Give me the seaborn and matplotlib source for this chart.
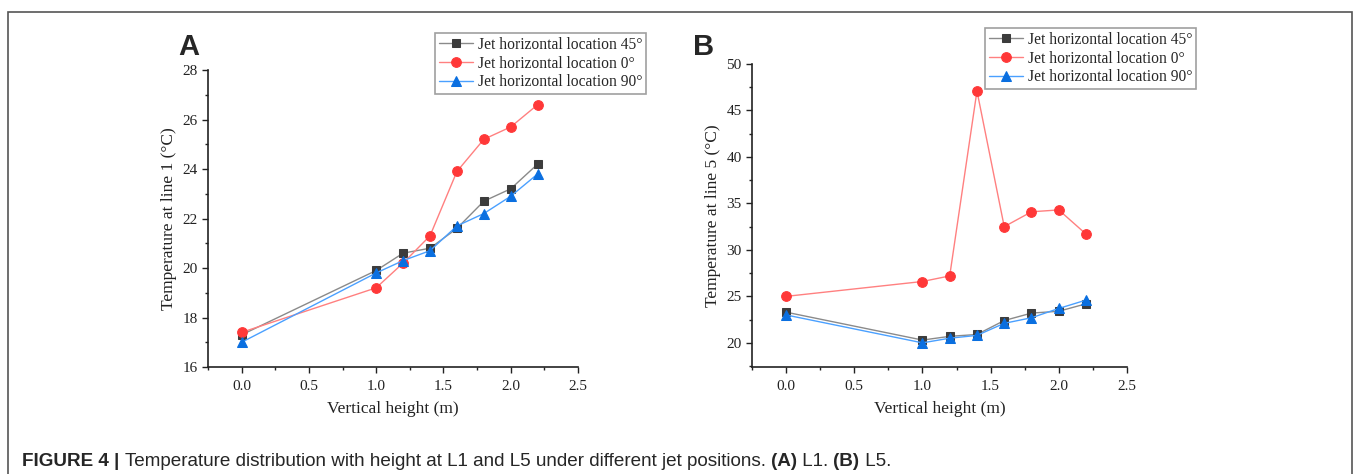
import numpy as np
import pandas as pd
import matplotlib.pyplot as plt
import seaborn as sns
from matplotlib.patches import Rectangle
from matplotlib.ticker import MultipleLocator

# Data
height = [0.0, 1.0, 1.2, 1.4, 1.6, 1.8, 2.0, 2.2]
series_names = ["Jet horizontal location 45°", "Jet horizontal location 0°", "Jet horizontal location 90°"]

line1_45 = [17.3, 19.9, 20.6, 20.8, 21.6, 22.7, 23.2, 24.2]
line1_0 = [17.4, 19.2, 20.2, 21.3, 23.9, 25.2, 25.7, 26.6]
line1_90 = [17.0, 19.8, 20.3, 20.7, 21.7, 22.2, 22.9, 23.8]

line5_45 = [23.3, 20.3, 20.7, 20.9, 22.4, 23.2, 23.4, 24.2]
line5_0 = [25.0, 26.6, 27.2, 47.1, 32.5, 34.1, 34.3, 31.7]
line5_90 = [23.0, 20.0, 20.5, 20.8, 22.1, 22.7, 23.7, 24.6]

sns.set_style("ticks")
plt.rcParams['font.family'] = ['Liberation Serif', 'DejaVu Serif']

# marker colour, line colour, marker
styles = [("#3c3c3c", "#8a8a8a", "s"), ("#ff3838", "#ff8080", "o"), ("#0a6fe0", "#4aa0ff", "^")]

fig = plt.figure(figsize=(13.54, 4.74), dpi=100)
ax1 = fig.add_axes([0.1536, 0.2257, 0.2733, 0.6266])
ax2 = fig.add_axes([0.5554, 0.2257, 0.2769, 0.6393])


def draw(ax, ys, ylim, ystep, ylabel):
    for name, y, (mc, lc, mk) in zip(series_names, ys, styles):
        df = pd.DataFrame({"h": height, "t": y})
        sns.lineplot(data=df, x="h", y="t", ax=ax, color=lc, lw=1.0, marker=mk,
                     markersize=7 if mk != "s" else 6, markerfacecolor=mc, markeredgecolor=mc,
                     label=name)
    ax.set_xlim(-0.25, 2.5)
    ax.set_ylim(*ylim)
    ax.xaxis.set_major_locator(MultipleLocator(0.5))
    ax.xaxis.set_minor_locator(MultipleLocator(0.25))
    ax.yaxis.set_major_locator(MultipleLocator(ystep))
    ax.yaxis.set_minor_locator(MultipleLocator(ystep / 2))
    ax.set_xticklabels(["%.1f" % v for v in ax.get_xticks()])
    ax.tick_params(which="major", length=4, width=1, labelsize=11, color="#222222", labelcolor="#222222")
    ax.tick_params(axis="x", which="major", pad=5)
    ax.tick_params(which="minor", length=2.5, width=1, color="#222222")
    for s in ["top", "right"]:
        ax.spines[s].set_visible(False)
    for s in ["left", "bottom"]:
        ax.spines[s].set_color("#222222")
        ax.spines[s].set_linewidth(1.2)
    ax.set_xlabel("Vertical height (m)", fontsize=12.5, color="#222222", labelpad=6)
    ax.set_ylabel(ylabel, fontsize=12.5, color="#222222")
    leg = ax.legend(loc="upper left", fontsize=11.2, frameon=True, fancybox=False,
                    handlelength=2.2, handletextpad=0.3, borderpad=0.25, labelspacing=0.18,
                    borderaxespad=0)
    leg.get_frame().set_edgecolor("#888888")
    leg.get_frame().set_linewidth(1.2)
    return leg


leg1 = draw(ax1, [line1_45, line1_0, line1_90], (16, 28), 2, "Temperature at line 1 (°C)")
leg1.set_bbox_to_anchor((435 / 1354, 1 - 33 / 474), transform=fig.transFigure)
leg2 = draw(ax2, [line5_45, line5_0, line5_90], (17.4, 50), 5, "Temperature at line 5 (°C)")
leg2.set_bbox_to_anchor((985 / 1354, 1 - 28 / 474), transform=fig.transFigure)

# panel labels
fig.text(178 / 1354, 1 - 55 / 474, "A", fontsize=21, fontweight="bold", family="Liberation Sans")
fig.text(693 / 1354, 1 - 55 / 474, "B", fontsize=21, fontweight="bold", family="Liberation Sans")

# border round the figure
fig.patches.append(Rectangle((8 / 1354, -0.05), (1352 - 8) / 1354, 1.05 - 12 / 474,
                             transform=fig.transFigure, fill=False, edgecolor="#555555", lw=1.2))

# caption, pieced together so bold parts line up
cap_font = ["Liberation Sans"]
cap_parts = [("FIGURE 4 | ", "bold"),
             ("Temperature distribution with height at L1 and L5 under different jet positions. ", "normal"),
             ("(A)", "bold"), (" L1. ", "normal"), ("(B)", "bold"), (" L5.", "normal")]
x = 22 / 1354
for txt, wt in cap_parts:
    t = fig.text(x, 1 - 466 / 474, txt, fontsize=13.6, fontweight=wt, family=cap_font)
    fig.canvas.draw()
    x = t.get_window_extent().x1 / fig.bbox.width

fig.savefig("out.png", dpi=100)
